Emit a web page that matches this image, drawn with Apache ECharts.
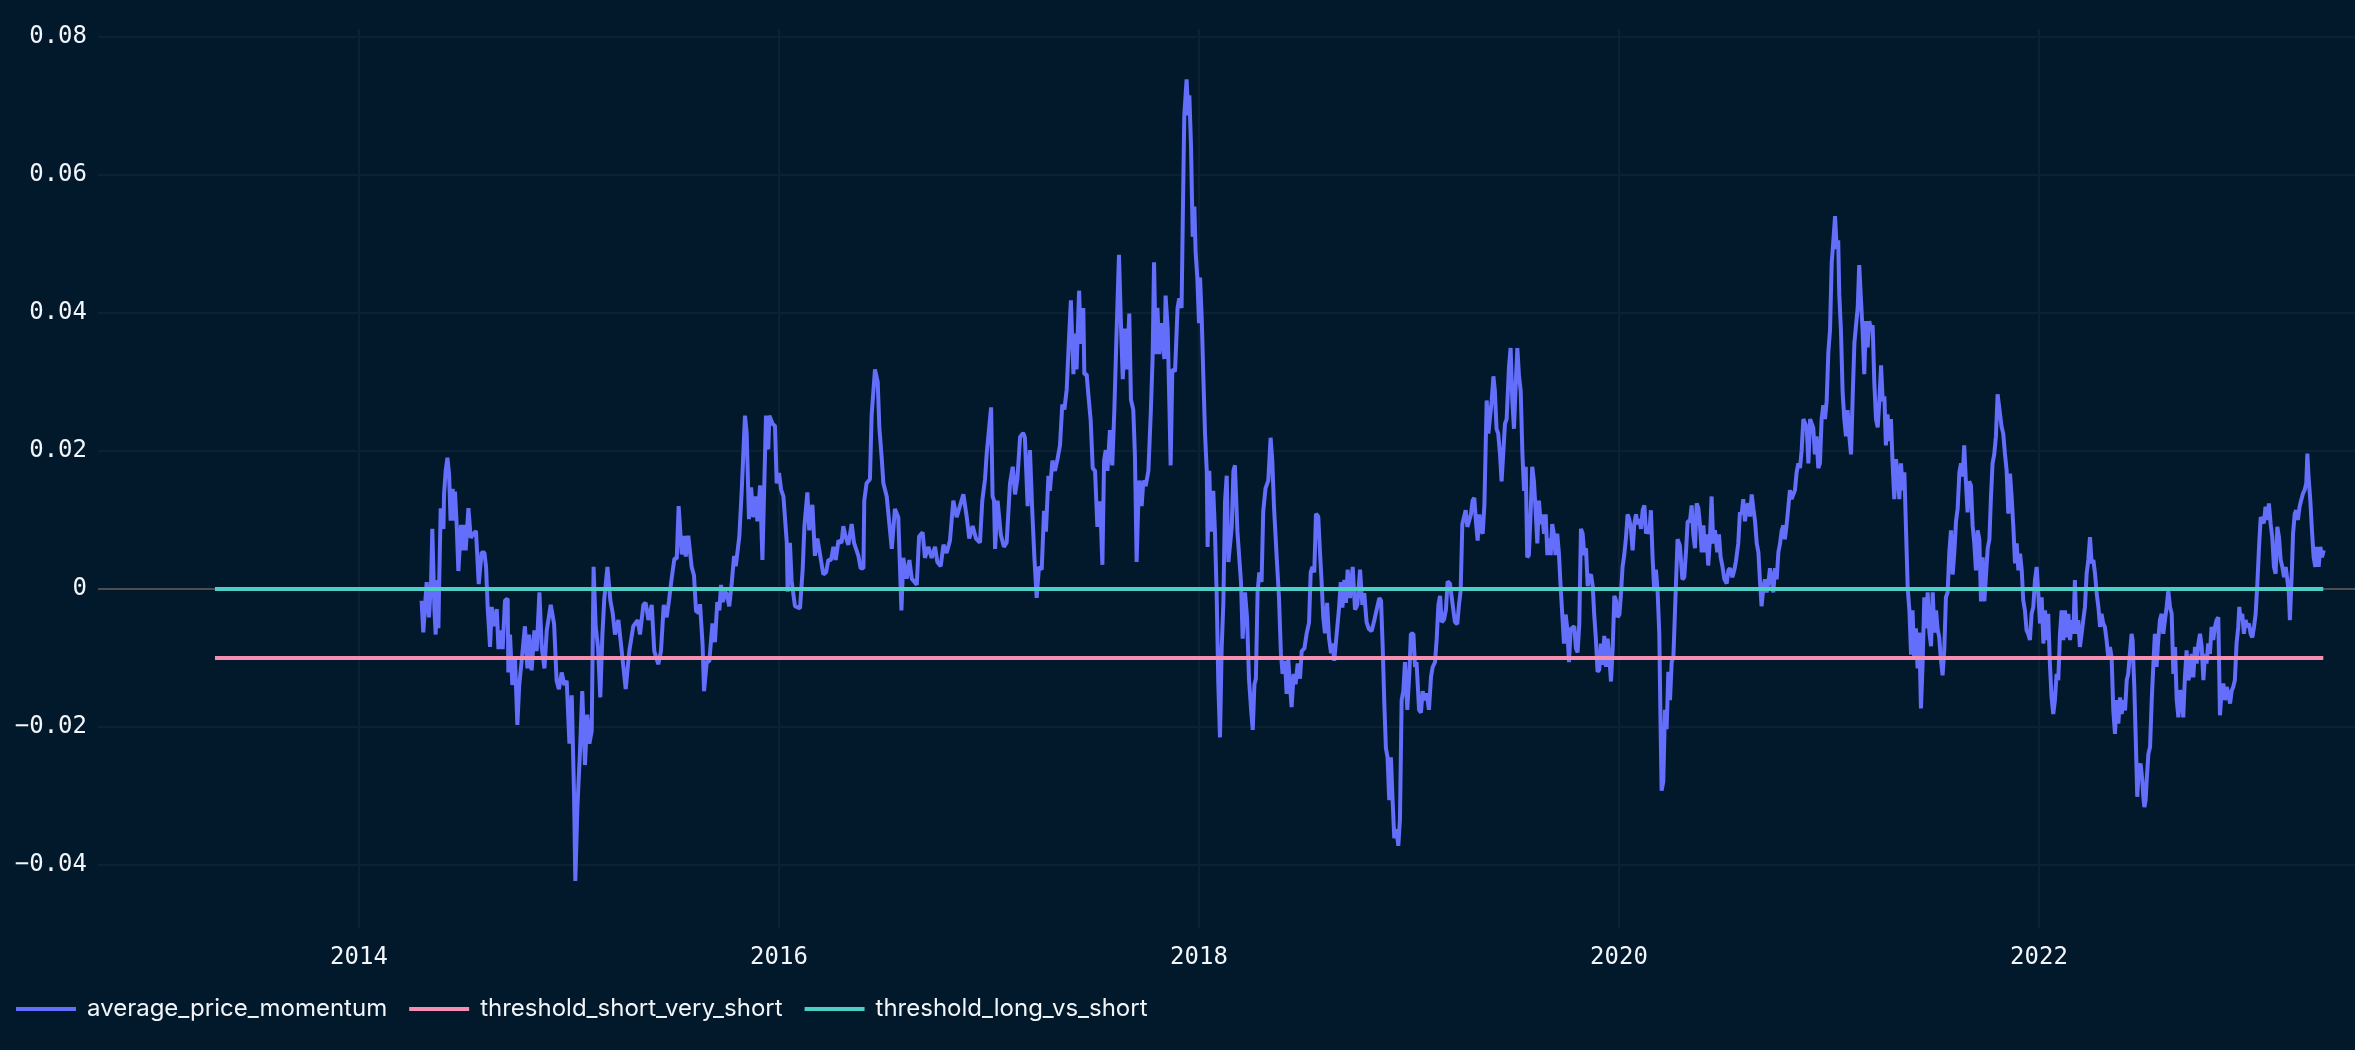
<!DOCTYPE html>
<html>
<head>
<meta charset="utf-8">
<script src="https://cdn.jsdelivr.net/npm/echarts@6/dist/echarts.min.js"></script>
<style>
html,body{margin:0;padding:0;background:#01192b;}
#chart{width:2355px;height:1050px;}
</style>
</head>
<body>
<div id="chart"></div>
<script>
// ---------- data (x = decimal year, y = value) ----------
const seriesNames = ['average_price_momentum', 'threshold_short_very_short', 'threshold_long_vs_short'];
const xTickYears = [2014, 2016, 2018, 2020, 2022];
const yTickValues = [-0.04, -0.02, 0, 0.02, 0.04, 0.06, 0.08];

const thresholdYears = [2013.314, 2023.354];
const thresholdShortVeryShort = [-0.01, -0.01];
const thresholdLongVsShort = [0, 0];

const momentum2014 = [[2014.298,-0.0017],[2014.306,-0.0063],[2014.322,0.0010],[2014.333,-0.0041],[2014.343,0.0010],[2014.349,0.0087],[2014.359,-0.0029],[2014.365,-0.0066],[2014.375,0.0013],[2014.378,-0.0057],[2014.382,0.0013],[2014.389,0.0117],[2014.402,0.0087],[2014.405,0.0138],[2014.413,0.0172],[2014.421,0.0190],[2014.429,0.0166],[2014.436,0.0099],[2014.446,0.0145],[2014.454,0.0099],[2014.457,0.0141],[2014.465,0.0093],[2014.473,0.0026],[2014.486,0.0093],[2014.492,0.0056],[2014.497,0.0093],[2014.508,0.0056],[2014.521,0.0117],[2014.532,0.0074],[2014.545,0.0080],[2014.557,0.0084],[2014.570,0.0007],[2014.584,0.0053],[2014.597,0.0053],[2014.605,0.0032],[2014.613,-0.0029],[2014.624,-0.0084],[2014.632,-0.0026],[2014.643,-0.0054],[2014.656,-0.0029],[2014.664,-0.0087],[2014.676,-0.0060],[2014.684,-0.0087],[2014.695,-0.0017],[2014.708,-0.0014],[2014.711,-0.0121],[2014.719,-0.0066],[2014.730,-0.0139],[2014.743,-0.0102],[2014.754,-0.0197],[2014.763,-0.0139],[2014.775,-0.0102],[2014.790,-0.0054],[2014.802,-0.0115],[2014.810,-0.0066],[2014.822,-0.0118],[2014.835,-0.0060],[2014.846,-0.0090],[2014.859,-0.0005],[2014.870,-0.0084],[2014.883,-0.0115],[2014.894,-0.0060],[2014.913,-0.0023],[2014.929,-0.0051],[2014.941,-0.0133],[2014.952,-0.0145],[2014.965,-0.0121],[2014.978,-0.0139],[2014.989,-0.0133]];

const momentum2015 = [[2015.002,-0.0224],[2015.013,-0.0154],[2015.024,-0.0298],[2015.030,-0.0423],[2015.040,-0.0316],[2015.052,-0.0237],[2015.063,-0.0148],[2015.076,-0.0255],[2015.087,-0.0182],[2015.097,-0.0224],[2015.108,-0.0206],[2015.117,0.0032],[2015.127,-0.0054],[2015.138,-0.0084],[2015.149,-0.0157],[2015.159,-0.0066],[2015.168,-0.0014],[2015.183,0.0032],[2015.197,-0.0017],[2015.208,-0.0035],[2015.219,-0.0066],[2015.235,-0.0045],[2015.251,-0.0090],[2015.270,-0.0145],[2015.287,-0.0090],[2015.306,-0.0054],[2015.327,-0.0045],[2015.338,-0.0066],[2015.354,-0.0023],[2015.365,-0.0020],[2015.378,-0.0045],[2015.394,-0.0023],[2015.406,-0.0090],[2015.425,-0.0109],[2015.438,-0.0090],[2015.451,-0.0023],[2015.465,-0.0041],[2015.476,-0.0017],[2015.489,0.0016],[2015.502,0.0044],[2015.513,0.0044],[2015.522,0.0120],[2015.537,0.0050],[2015.549,0.0077],[2015.556,0.0047],[2015.568,0.0077],[2015.584,0.0032],[2015.595,0.0020],[2015.605,-0.0032],[2015.619,-0.0035],[2015.624,-0.0022],[2015.636,-0.0080],[2015.643,-0.0148],[2015.656,-0.0105],[2015.668,-0.0105],[2015.683,-0.0050],[2015.695,-0.0077],[2015.706,-0.0019],[2015.716,-0.0031],[2015.724,0.0006],[2015.732,-0.0019],[2015.743,-0.0004],[2015.751,-0.0007],[2015.763,-0.0025],[2015.775,0.0009],[2015.786,0.0048],[2015.794,0.0033],[2015.811,0.0076],[2015.822,0.0140],[2015.838,0.0251],[2015.846,0.0226],[2015.857,0.0101],[2015.867,0.0147],[2015.878,0.0104],[2015.889,0.0134],[2015.897,0.0098],[2015.910,0.0150],[2015.921,0.0042],[2015.929,0.0140],[2015.938,0.0251],[2015.949,0.0202],[2015.954,0.0251],[2015.970,0.0239],[2015.981,0.0236],[2015.989,0.0153]];

const momentum2016 = [[2016.000,0.0168],[2016.010,0.0144],[2016.021,0.0134],[2016.037,0.0067],[2016.041,-0.0004],[2016.052,0.0067],[2016.060,0.0012],[2016.076,-0.0025],[2016.100,-0.0028],[2016.113,0.0030],[2016.121,0.0091],[2016.135,0.0140],[2016.144,0.0085],[2016.159,0.0122],[2016.171,0.0048],[2016.183,0.0073],[2016.190,0.0073],[2016.211,0.0021],[2016.224,0.0024],[2016.235,0.0042],[2016.248,0.0042],[2016.259,0.0061],[2016.270,0.0042],[2016.283,0.0070],[2016.298,0.0067],[2016.306,0.0091],[2016.317,0.0076],[2016.330,0.0064],[2016.346,0.0094],[2016.357,0.0067],[2016.378,0.0048],[2016.389,0.0030],[2016.402,0.0030],[2016.406,0.0128],[2016.417,0.0153],[2016.433,0.0159],[2016.441,0.0251],[2016.457,0.0318],[2016.470,0.0300],[2016.478,0.0233],[2016.489,0.0190],[2016.497,0.0153],[2016.513,0.0134],[2016.537,0.0058],[2016.552,0.0116],[2016.568,0.0104],[2016.583,-0.0031],[2016.592,0.0045],[2016.608,0.0015],[2016.621,0.0042],[2016.632,0.0015],[2016.656,0.0006],[2016.667,0.0076],[2016.684,0.0082],[2016.695,0.0045],[2016.711,0.0061],[2016.727,0.0045],[2016.743,0.0061],[2016.754,0.0039],[2016.770,0.0033],[2016.783,0.0064],[2016.798,0.0052],[2016.814,0.0070],[2016.830,0.0128],[2016.846,0.0104],[2016.878,0.0137],[2016.894,0.0104],[2016.906,0.0073],[2016.922,0.0091],[2016.938,0.0073],[2016.957,0.0067],[2016.968,0.0128],[2016.981,0.0159],[2016.989,0.0196]];

const momentum2017 = [[2017.010,0.0263],[2017.017,0.0134],[2017.024,0.0128],[2017.029,0.0058],[2017.041,0.0128],[2017.056,0.0079],[2017.071,0.0061],[2017.084,0.0067],[2017.100,0.0153],[2017.113,0.0177],[2017.124,0.0137],[2017.135,0.0159],[2017.148,0.0220],[2017.163,0.0226],[2017.171,0.0219],[2017.184,0.0120],[2017.195,0.0201],[2017.206,0.0113],[2017.216,0.0046],[2017.227,-0.0013],[2017.238,0.0032],[2017.251,0.0028],[2017.262,0.0113],[2017.271,0.0083],[2017.283,0.0164],[2017.290,0.0142],[2017.302,0.0186],[2017.314,0.0171],[2017.325,0.0186],[2017.338,0.0208],[2017.349,0.0267],[2017.359,0.0260],[2017.370,0.0289],[2017.381,0.0363],[2017.390,0.0418],[2017.402,0.0311],[2017.410,0.0370],[2017.417,0.0318],[2017.429,0.0432],[2017.438,0.0355],[2017.449,0.0407],[2017.454,0.0311],[2017.465,0.0311],[2017.473,0.0282],[2017.484,0.0245],[2017.494,0.0175],[2017.505,0.0171],[2017.516,0.0090],[2017.529,0.0127],[2017.540,0.0035],[2017.548,0.0186],[2017.556,0.0201],[2017.564,0.0171],[2017.576,0.0230],[2017.587,0.0179],[2017.597,0.0260],[2017.608,0.0377],[2017.619,0.0484],[2017.629,0.0377],[2017.637,0.0304],[2017.648,0.0377],[2017.657,0.0318],[2017.668,0.0399],[2017.676,0.0274],[2017.687,0.0260],[2017.695,0.0193],[2017.703,0.0039],[2017.714,0.0157],[2017.727,0.0120],[2017.735,0.0157],[2017.746,0.0149],[2017.759,0.0171],[2017.770,0.0252],[2017.779,0.0333],[2017.786,0.0473],[2017.794,0.0340],[2017.802,0.0407],[2017.811,0.0340],[2017.822,0.0385],[2017.835,0.0333],[2017.841,0.0425],[2017.851,0.0377],[2017.859,0.0267],[2017.865,0.0179],[2017.873,0.0318],[2017.886,0.0315],[2017.898,0.0407],[2017.906,0.0421],[2017.917,0.0407],[2017.925,0.0583],[2017.930,0.0686],[2017.941,0.0738],[2017.949,0.0686],[2017.954,0.0715],[2017.962,0.0642],[2017.970,0.0510],[2017.978,0.0554],[2017.984,0.0488],[2017.992,0.0451]];

const momentum2018 = [[2018.000,0.0385],[2018.005,0.0451],[2018.013,0.0392],[2018.021,0.0304],[2018.029,0.0223],[2018.037,0.0171],[2018.041,0.0061],[2018.049,0.0171],[2018.057,0.0083],[2018.068,0.0142],[2018.076,0.0083],[2018.084,-0.0005],[2018.092,-0.0138],[2018.100,-0.0215],[2018.108,-0.0086],[2018.116,-0.0020],[2018.124,0.0127],[2018.132,0.0164],[2018.140,0.0039],[2018.148,0.0039],[2018.156,0.0090],[2018.164,0.0171],[2018.171,0.0179],[2018.183,0.0083],[2018.192,0.0083],[2018.200,0.0010],[2018.208,-0.0072],[2018.219,-0.0005],[2018.229,-0.0042],[2018.238,-0.0130],[2018.248,-0.0174],[2018.256,-0.0204],[2018.264,-0.0138],[2018.271,-0.0130],[2018.279,-0.0005],[2018.287,0.0024],[2018.298,0.0010],[2018.306,0.0113],[2018.317,0.0146],[2018.330,0.0157],[2018.341,0.0219],[2018.349,0.0186],[2018.357,0.0120],[2018.370,0.0046],[2018.381,-0.0013],[2018.390,-0.0093],[2018.398,-0.0123],[2018.410,-0.0104],[2018.417,-0.0152],[2018.425,-0.0101],[2018.433,-0.0138],[2018.441,-0.0171],[2018.451,-0.0123],[2018.460,-0.0138],[2018.470,-0.0108],[2018.481,-0.0130],[2018.489,-0.0090],[2018.502,-0.0086],[2018.513,-0.0064],[2018.524,-0.0049],[2018.532,0.0024],[2018.540,0.0032],[2018.549,0.0024],[2018.557,0.0109],[2018.568,0.0105],[2018.576,0.0054],[2018.584,0.0010],[2018.592,-0.0042],[2018.600,-0.0064],[2018.610,-0.0020],[2018.619,-0.0071],[2018.629,-0.0093],[2018.637,-0.0079],[2018.644,-0.0104],[2018.656,-0.0064],[2018.667,-0.0027],[2018.675,0.0010],[2018.683,-0.0027],[2018.692,0.0013],[2018.700,-0.0020],[2018.708,0.0028],[2018.719,-0.0013],[2018.732,0.0032],[2018.743,-0.0030],[2018.754,-0.0023],[2018.767,0.0028],[2018.778,-0.0023],[2018.787,-0.0006],[2018.798,-0.0048],[2018.809,-0.0058],[2018.822,-0.0061],[2018.833,-0.0048],[2018.846,-0.0030],[2018.859,-0.0013],[2018.867,-0.0017],[2018.875,-0.0086],[2018.882,-0.0161],[2018.890,-0.0230],[2018.898,-0.0244],[2018.906,-0.0306],[2018.914,-0.0244],[2018.922,-0.0306],[2018.930,-0.0361],[2018.941,-0.0348],[2018.949,-0.0372],[2018.957,-0.0334],[2018.965,-0.0161],[2018.973,-0.0148],[2018.981,-0.0106],[2018.992,-0.0175]];

const momentum2019 = [[2019.002,-0.0120],[2019.009,-0.0065],[2019.021,-0.0065],[2019.029,-0.0113],[2019.036,-0.0106],[2019.048,-0.0175],[2019.057,-0.0179],[2019.065,-0.0148],[2019.076,-0.0161],[2019.084,-0.0151],[2019.095,-0.0175],[2019.105,-0.0127],[2019.113,-0.0113],[2019.124,-0.0106],[2019.132,-0.0072],[2019.140,-0.0023],[2019.148,-0.0010],[2019.156,-0.0048],[2019.167,-0.0044],[2019.176,-0.0030],[2019.184,0.0011],[2019.195,0.0008],[2019.203,0.0008],[2019.211,-0.0030],[2019.219,-0.0048],[2019.230,-0.0051],[2019.238,-0.0023],[2019.246,-0.0003],[2019.254,0.0094],[2019.262,0.0094],[2019.270,0.0114],[2019.278,0.0090],[2019.286,0.0090],[2019.295,0.0108],[2019.303,0.0128],[2019.311,0.0132],[2019.319,0.0097],[2019.327,0.0070],[2019.335,0.0108],[2019.343,0.0087],[2019.351,0.0080],[2019.359,0.0121],[2019.365,0.0204],[2019.370,0.0273],[2019.378,0.0225],[2019.386,0.0225],[2019.394,0.0273],[2019.402,0.0308],[2019.409,0.0287],[2019.417,0.0232],[2019.425,0.0225],[2019.433,0.0197],[2019.441,0.0156],[2019.449,0.0197],[2019.457,0.0239],[2019.465,0.0246],[2019.476,0.0321],[2019.484,0.0349],[2019.492,0.0273],[2019.500,0.0232],[2019.508,0.0294],[2019.516,0.0349],[2019.524,0.0308],[2019.532,0.0287],[2019.540,0.0197],[2019.548,0.0142],[2019.556,0.0177],[2019.563,0.0046],[2019.571,0.0049],[2019.579,0.0108],[2019.587,0.0177],[2019.595,0.0156],[2019.603,0.0114],[2019.611,0.0066],[2019.619,0.0128],[2019.627,0.0094],[2019.635,0.0108],[2019.643,0.0080],[2019.651,0.0108],[2019.659,0.0049],[2019.667,0.0073],[2019.675,0.0049],[2019.682,0.0094],[2019.690,0.0080],[2019.698,0.0049],[2019.706,0.0080],[2019.714,0.0052],[2019.722,0.0004],[2019.730,-0.0037],[2019.738,-0.0079],[2019.746,-0.0037],[2019.754,-0.0058],[2019.762,-0.0106],[2019.770,-0.0058],[2019.779,-0.0058],[2019.787,-0.0054],[2019.795,-0.0086],[2019.803,-0.0092],[2019.811,-0.0051],[2019.819,0.0087],[2019.827,0.0080],[2019.835,0.0049],[2019.843,0.0059],[2019.851,0.0004],[2019.859,0.0018],[2019.867,0.0021],[2019.875,0.0004],[2019.882,-0.0037],[2019.890,-0.0072],[2019.898,-0.0120],[2019.906,-0.0117],[2019.914,-0.0079],[2019.922,-0.0110],[2019.930,-0.0068],[2019.938,-0.0113],[2019.946,-0.0072],[2019.954,-0.0099],[2019.962,-0.0134],[2019.970,-0.0086],[2019.978,-0.0010],[2019.986,-0.0017],[2019.994,-0.0041]];

const momentum2020 = [[2020.002,-0.0037],[2020.009,-0.0010],[2020.017,0.0032],[2020.025,0.0049],[2020.033,0.0073],[2020.041,0.0108],[2020.049,0.0101],[2020.057,0.0087],[2020.065,0.0056],[2020.073,0.0094],[2020.081,0.0108],[2020.089,0.0094],[2020.097,0.0101],[2020.105,0.0087],[2020.113,0.0114],[2020.121,0.0121],[2020.129,0.0080],[2020.136,0.0087],[2020.144,0.0080],[2020.152,0.0114],[2020.160,0.0046],[2020.168,-0.0003],[2020.176,0.0028],[2020.184,-0.0003],[2020.192,-0.0065],[2020.198,-0.0196],[2020.203,-0.0292],[2020.211,-0.0279],[2020.219,-0.0175],[2020.227,-0.0203],[2020.235,-0.0120],[2020.243,-0.0161],[2020.251,-0.0106],[2020.259,-0.0099],[2020.267,-0.0030],[2020.279,0.0072],[2020.290,0.0063],[2020.302,0.0014],[2020.311,0.0017],[2020.319,0.0053],[2020.327,0.0098],[2020.338,0.0098],[2020.346,0.0121],[2020.354,0.0079],[2020.362,0.0059],[2020.370,0.0124],[2020.378,0.0117],[2020.386,0.0092],[2020.394,0.0053],[2020.402,0.0092],[2020.410,0.0053],[2020.417,0.0079],[2020.425,0.0034],[2020.433,0.0072],[2020.441,0.0134],[2020.449,0.0066],[2020.457,0.0085],[2020.468,0.0053],[2020.476,0.0079],[2020.484,0.0046],[2020.492,0.0034],[2020.502,0.0014],[2020.513,0.0008],[2020.521,0.0027],[2020.529,0.0030],[2020.540,0.0017],[2020.549,0.0027],[2020.557,0.0040],[2020.568,0.0066],[2020.576,0.0111],[2020.584,0.0108],[2020.592,0.0130],[2020.600,0.0098],[2020.608,0.0117],[2020.616,0.0124],[2020.624,0.0105],[2020.632,0.0137],[2020.640,0.0117],[2020.648,0.0098],[2020.656,0.0066],[2020.664,0.0053],[2020.671,0.0014],[2020.679,-0.0025],[2020.687,0.0001],[2020.695,0.0014],[2020.703,-0.0005],[2020.711,0.0008],[2020.719,0.0030],[2020.727,0.0014],[2020.735,-0.0005],[2020.743,0.0030],[2020.751,0.0014],[2020.759,0.0053],[2020.767,0.0066],[2020.775,0.0085],[2020.783,0.0092],[2020.790,0.0072],[2020.798,0.0092],[2020.806,0.0117],[2020.814,0.0143],[2020.822,0.0130],[2020.830,0.0137],[2020.838,0.0143],[2020.846,0.0169],[2020.854,0.0182],[2020.862,0.0175],[2020.870,0.0201],[2020.878,0.0246],[2020.886,0.0246],[2020.894,0.0234],[2020.902,0.0182],[2020.910,0.0246],[2020.917,0.0240],[2020.925,0.0234],[2020.933,0.0195],[2020.941,0.0221],[2020.949,0.0175],[2020.957,0.0182],[2020.965,0.0246],[2020.973,0.0266],[2020.981,0.0246],[2020.989,0.0272],[2020.997,0.0343]];

const momentum2021 = [[2021.005,0.0375],[2021.013,0.0472],[2021.021,0.0505],[2021.029,0.0540],[2021.037,0.0492],[2021.044,0.0505],[2021.049,0.0427],[2021.057,0.0375],[2021.065,0.0285],[2021.073,0.0246],[2021.081,0.0221],[2021.089,0.0259],[2021.097,0.0221],[2021.105,0.0195],[2021.113,0.0279],[2021.121,0.0356],[2021.129,0.0356],[2021.137,0.0408],[2021.144,0.0469],[2021.152,0.0421],[2021.160,0.0375],[2021.168,0.0311],[2021.176,0.0388],[2021.184,0.0350],[2021.192,0.0388],[2021.200,0.0375],[2021.208,0.0382],[2021.216,0.0298],[2021.224,0.0246],[2021.232,0.0234],[2021.240,0.0272],[2021.248,0.0324],[2021.256,0.0272],[2021.264,0.0279],[2021.271,0.0208],[2021.279,0.0253],[2021.287,0.0214],[2021.295,0.0246],[2021.303,0.0182],[2021.311,0.0130],[2021.319,0.0188],[2021.327,0.0169],[2021.335,0.0130],[2021.343,0.0182],[2021.351,0.0143],[2021.359,0.0169],[2021.367,0.0085],[2021.375,0.0001],[2021.383,-0.0031],[2021.391,-0.0095],[2021.398,-0.0031],[2021.406,-0.0102],[2021.414,-0.0057],[2021.422,-0.0115],[2021.430,-0.0063],[2021.438,-0.0173],[2021.446,-0.0108],[2021.454,-0.0012],[2021.462,-0.0057],[2021.470,-0.0005],[2021.478,-0.0063],[2021.486,-0.0083],[2021.494,-0.0005],[2021.502,-0.0063],[2021.510,-0.0031],[2021.517,-0.0057],[2021.525,-0.0070],[2021.533,-0.0102],[2021.541,-0.0125],[2021.549,-0.0089],[2021.557,-0.0012],[2021.565,-0.0005],[2021.573,0.0053],[2021.581,0.0085],[2021.589,0.0021],[2021.597,0.0053],[2021.605,0.0098],[2021.613,0.0117],[2021.621,0.0169],[2021.629,0.0182],[2021.637,0.0163],[2021.644,0.0208],[2021.652,0.0156],[2021.660,0.0111],[2021.668,0.0156],[2021.676,0.0150],[2021.684,0.0092],[2021.692,0.0066],[2021.700,0.0027],[2021.708,0.0085],[2021.716,0.0072],[2021.724,-0.0018],[2021.732,0.0046],[2021.740,-0.0018],[2021.748,-0.0018],[2021.756,0.0059],[2021.764,0.0072],[2021.771,0.0130],[2021.779,0.0182],[2021.787,0.0195],[2021.795,0.0221],[2021.803,0.0282],[2021.822,0.0235],[2021.830,0.0225],[2021.838,0.0196],[2021.846,0.0172],[2021.854,0.0109],[2021.862,0.0167],[2021.870,0.0133],[2021.878,0.0090],[2021.886,0.0037],[2021.894,0.0066],[2021.902,0.0027],[2021.910,0.0051],[2021.918,0.0027],[2021.925,-0.0016],[2021.933,-0.0031],[2021.941,-0.0060],[2021.949,-0.0065],[2021.957,-0.0074],[2021.965,-0.0036],[2021.973,-0.0026],[2021.981,0.0013],[2021.989,0.0032],[2021.997,-0.0007]];

const momentum2022 = [[2022.005,-0.0050],[2022.013,-0.0012],[2022.021,-0.0079],[2022.029,-0.0031],[2022.037,-0.0074],[2022.044,-0.0036],[2022.052,-0.0108],[2022.060,-0.0157],[2022.068,-0.0181],[2022.076,-0.0161],[2022.084,-0.0123],[2022.092,-0.0132],[2022.100,-0.0065],[2022.108,-0.0031],[2022.116,-0.0074],[2022.124,-0.0031],[2022.132,-0.0070],[2022.140,-0.0036],[2022.148,-0.0074],[2022.156,-0.0045],[2022.164,-0.0065],[2022.171,0.0013],[2022.179,-0.0065],[2022.187,-0.0045],[2022.195,-0.0084],[2022.203,-0.0065],[2022.211,-0.0045],[2022.219,-0.0026],[2022.227,0.0022],[2022.235,0.0042],[2022.243,0.0075],[2022.251,0.0037],[2022.259,0.0042],[2022.267,0.0022],[2022.275,-0.0007],[2022.283,-0.0026],[2022.291,-0.0055],[2022.298,-0.0036],[2022.306,-0.0050],[2022.314,-0.0055],[2022.322,-0.0074],[2022.330,-0.0099],[2022.338,-0.0084],[2022.346,-0.0099],[2022.354,-0.0176],[2022.362,-0.0210],[2022.370,-0.0161],[2022.378,-0.0195],[2022.386,-0.0157],[2022.394,-0.0181],[2022.402,-0.0161],[2022.410,-0.0176],[2022.418,-0.0132],[2022.425,-0.0123],[2022.433,-0.0094],[2022.441,-0.0065],[2022.446,-0.0074],[2022.449,-0.0103],[2022.454,-0.0142],[2022.462,-0.0229],[2022.468,-0.0301],[2022.476,-0.0258],[2022.484,-0.0253],[2022.492,-0.0277],[2022.497,-0.0301],[2022.502,-0.0316],[2022.508,-0.0306],[2022.513,-0.0277],[2022.521,-0.0239],[2022.529,-0.0229],[2022.537,-0.0161],[2022.545,-0.0108],[2022.552,-0.0065],[2022.560,-0.0113],[2022.568,-0.0074],[2022.576,-0.0045],[2022.584,-0.0036],[2022.592,-0.0065],[2022.600,-0.0045],[2022.608,-0.0026],[2022.616,-0.0002],[2022.624,-0.0026],[2022.632,-0.0036],[2022.640,-0.0123],[2022.648,-0.0084],[2022.656,-0.0161],[2022.664,-0.0186],[2022.671,-0.0147],[2022.679,-0.0152],[2022.687,-0.0186],[2022.695,-0.0128],[2022.703,-0.0089],[2022.711,-0.0132],[2022.719,-0.0123],[2022.727,-0.0094],[2022.735,-0.0128],[2022.743,-0.0084],[2022.751,-0.0108],[2022.759,-0.0079],[2022.767,-0.0065],[2022.775,-0.0084],[2022.783,-0.0132],[2022.791,-0.0094],[2022.798,-0.0108],[2022.806,-0.0079],[2022.814,-0.0094],[2022.822,-0.0055],[2022.830,-0.0074],[2022.838,-0.0055],[2022.846,-0.0045],[2022.854,-0.0041],[2022.862,-0.0183],[2022.870,-0.0147],[2022.878,-0.0137],[2022.886,-0.0161],[2022.894,-0.0142],[2022.902,-0.0152],[2022.910,-0.0166],[2022.918,-0.0147],[2022.925,-0.0142],[2022.933,-0.0132],[2022.941,-0.0079],[2022.949,-0.0055],[2022.954,-0.0026],[2022.960,-0.0045],[2022.968,-0.0036],[2022.976,-0.0065],[2022.984,-0.0045],[2022.992,-0.0055]];

const momentum2023 = [[2023.000,-0.0050],[2023.008,-0.0065],[2023.016,-0.0070],[2023.024,-0.0055],[2023.032,-0.0036],[2023.040,0.0008],[2023.048,0.0061],[2023.056,0.0104],[2023.064,0.0100],[2023.071,0.0095],[2023.079,0.0119],[2023.087,0.0100],[2023.095,0.0124],[2023.103,0.0095],[2023.111,0.0075],[2023.119,0.0032],[2023.127,0.0022],[2023.135,0.0090],[2023.143,0.0075],[2023.151,0.0042],[2023.159,0.0032],[2023.167,0.0017],[2023.175,0.0032],[2023.183,0.0013],[2023.190,-0.0007],[2023.195,-0.0045],[2023.200,-0.0045],[2023.205,0.0032],[2023.210,0.0080],[2023.218,0.0109],[2023.225,0.0114],[2023.233,0.0100],[2023.241,0.0119],[2023.249,0.0129],[2023.257,0.0138],[2023.265,0.0143],[2023.273,0.0153],[2023.278,0.0196],[2023.284,0.0162],[2023.292,0.0129],[2023.300,0.0085],[2023.308,0.0046],[2023.316,0.0032],[2023.324,0.0061],[2023.332,0.0032],[2023.340,0.0061],[2023.348,0.0046],[2023.356,0.0056]];

// ---------- chart ----------
const momentum = [].concat(momentum2014, momentum2015, momentum2016, momentum2017, momentum2018,
  momentum2019, momentum2020, momentum2021, momentum2022, momentum2023);
const shortVeryShort = thresholdYears.map((x, i) => [x, thresholdShortVeryShort[i]]);
const longVsShort = thresholdYears.map((x, i) => [x, thresholdLongVsShort[i]]);

const colors = ['#636efa', '#f48fb1', '#4ecdc4'];
const gridColor = '#0c2232';
const textColor = '#f2f5fa';
const monoFont = 'DejaVu Sans Mono';

function fmtY(v) {
  if (Math.abs(v) < 1e-9) return '0';
  return (v < 0 ? '\u2212' : '') + Math.abs(v).toFixed(2);
}

const chart = echarts.init(document.getElementById('chart'), null, {renderer: 'canvas'});
chart.setOption({
  backgroundColor: '#01192b',
  animation: false,
  grid: {left: 98, right: 0, top: 29, bottom: 122, containLabel: false},
  xAxis: {
    type: 'value', min: 2012.757, max: 2023.505,
    axisLine: {show: false},
    axisTick: {show: false, customValues: xTickYears},
    axisLabel: {customValues: xTickYears, formatter: v => String(Math.round(v)),
      color: textColor, fontFamily: monoFont, fontSize: 24, margin: 18},
    splitLine: {show: true, lineStyle: {color: gridColor, width: 2}}
  },
  yAxis: {
    type: 'value', min: -0.0491, max: 0.0811,
    axisLine: {show: false},
    axisTick: {show: false, customValues: yTickValues},
    axisLabel: {customValues: yTickValues, formatter: fmtY,
      color: textColor, fontFamily: monoFont, fontSize: 24, margin: 11},
    splitLine: {show: true, lineStyle: {color: gridColor, width: 2}}
  },
  legend: {
    data: seriesNames, left: 16, top: 994, orient: 'horizontal', padding: 0,
    icon: 'rect', itemWidth: 60, itemHeight: 4, itemGap: 22,
    textStyle: {color: textColor, fontFamily: 'Inter', fontSize: 24, lineHeight: 30, padding: [0, 0, 0, 6]}
  },
  series: [
    {
      name: 'zero', type: 'line', data: [], z: 0, silent: true,
      markLine: {z: 0, silent: true, symbol: ['none', 'none'], label: {show: false},
        lineStyle: {color: '#4d4d4d', width: 2, type: 'solid'}, data: [{yAxis: 0}]}
    },
    {
      name: seriesNames[0], type: 'line', data: momentum, symbol: 'none', z: 2,
      color: colors[0], itemStyle: {color: colors[0]}, lineStyle: {color: colors[0], width: 4}
    },
    {
      name: seriesNames[1], type: 'line', data: shortVeryShort, symbol: 'none', z: 3,
      color: colors[1], itemStyle: {color: colors[1]}, lineStyle: {color: colors[1], width: 4}
    },
    {
      name: seriesNames[2], type: 'line', data: longVsShort, symbol: 'none', z: 4,
      color: colors[2], itemStyle: {color: colors[2]}, lineStyle: {color: colors[2], width: 4}
    }
  ]
});
</script>
</body>
</html>
